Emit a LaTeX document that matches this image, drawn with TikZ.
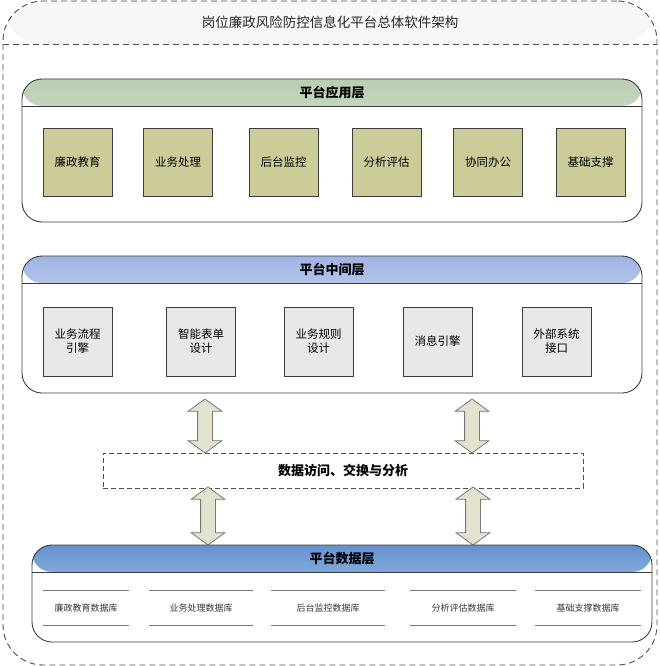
\documentclass[tikz,border=0pt]{standalone}
\usepackage{fontspec}
\usepackage{tikz}
\usetikzlibrary{positioning, shapes.arrows, calc}
\newfontfamily\cjk{Noto Sans CJK SC}
\definecolor{ink}{RGB}{60,60,60}
\definecolor{rulegrey}{RGB}{120,120,120}
\definecolor{dashgrey}{RGB}{80,80,80}
\definecolor{khaki}{RGB}{204,204,153}
\definecolor{pale}{RGB}{232,232,232}
\definecolor{sage}{RGB}{184,206,178}
\definecolor{cream}{RGB}{248,248,236}
\definecolor{lilac}{RGB}{160,180,228}
\definecolor{snow}{RGB}{250,250,252}
\definecolor{sky}{RGB}{100,146,208}
\definecolor{icesky}{RGB}{206,226,246}
\definecolor{straw}{RGB}{226,226,206}
\definecolor{fog}{RGB}{247,247,247}
\definecolor{ivory}{RGB}{252,252,244}

\begin{document}
\begin{tikzpicture}[
  x=1pt, y=1pt,
  frame/.style={draw=dashgrey, dash pattern=on 6pt off 4pt, line width=0.9pt,
                rounded corners=40pt, inner sep=0pt},
  layer/.style={draw=ink, line width=0.9pt, rounded corners=20pt,
                minimum width=620pt, inner sep=0pt},
  head/.style 2 args={path picture={
      \shade[top color=#1, bottom color=#2]
        (path picture bounding box.north west) rectangle
        ([yshift=-27pt]path picture bounding box.north east);
      \draw[ink, line width=0.9pt]
        ([yshift=-27pt]path picture bounding box.north west) --
        ([yshift=-27pt]path picture bounding box.north east);}},
  hdr/.style={font=\cjk\bfseries\fontsize{13}{15}\selectfont},
  ttl/.style={font=\cjk\fontsize{13.5}{16}\selectfont, text=black!85},
  appbox/.style={draw=ink, fill=khaki, line width=0.8pt, minimum width=69pt,
                 minimum height=68pt, inner sep=2pt, align=center,
                 font=\cjk\fontsize{11.5}{14}\selectfont},
  midbox/.style={appbox, fill=pale, minimum height=69pt},
  dblarrow/.style={double arrow, draw=rulegrey, fill=straw, line width=0.8pt,
                   rotate=90, inner xsep=0pt, inner ysep=7pt,
                   minimum width=33pt, double arrow tip angle=108,
                   double arrow head extend=9.5pt, double arrow head indent=0pt},
  dashbox/.style={draw=dashgrey, dash pattern=on 5pt off 3pt, line width=0.8pt,
                  minimum width=480pt, minimum height=35pt,
                  font=\cjk\bfseries\fontsize{13}{15}\selectfont},
  dbtxt/.style={minimum height=34pt, inner sep=0pt,
                font=\cjk\fontsize{9}{11}\selectfont, text=black!80},
  dbline/.style={draw=rulegrey, line width=1.2pt}]

  \useasboundingbox (0,0) rectangle (660,-666);

  % --- outer frame and title
  \node[frame, minimum width=654pt, minimum height=664pt,
        path picture={\shade[top color=fog, bottom color=ivory]
          (path picture bounding box.north west) rectangle
          ([yshift=-43pt]path picture bounding box.north east);}]
        (frm) at (330,-333) {};
  \coordinate (cut) at (0,-44);
  \draw[draw=dashgrey, dash pattern=on 6pt off 4pt, line width=0.9pt]
    (frm.west |- cut) -- (frm.east |- cut);
  \node[ttl] (title) at (330,-22) {岗位廉政风险防控信息化平台总体软件架构};

  % --- application layer
  \node[layer, minimum height=143pt, head={sage}{cream}] (app) at (332,-150.5) {};
  \node[hdr] (apph) at ([yshift=-13.5pt]app.north) {平台应用层};
  \foreach \x/\t [count=\i] in {77.5/廉政教育, 178/业务处理, 283.5/后台监控,
                                 386.5/分析评估, 488/协同办公, 590.5/基础支撑}
    \node[appbox] (a\i) at (\x,-162) {\t};

  % --- middleware layer
  \node[layer, minimum height=137pt, head={lilac}{snow}] (mid) at (332,-324.5) {};
  \node[hdr] (midh) at ([yshift=-13.5pt]mid.north) {平台中间层};
  \foreach \x/\t [count=\i] in {77.5/{业务流程\\引擎}, 201/{智能表单\\设计},
                                 318.5/{业务规则\\设计}, 437.5/消息引擎,
                                 556.5/{外部系统\\接口}}
    \node[midbox] (m\i) at (\x,-341.5) {\t};

  % --- data access band with the arrows either side
  \node[dashbox] (acc) at (343,-470.5) {数据访问、交换与分析};
  \node[dblarrow, minimum height=54pt] (up1) at (205,-426) {};
  \node[dblarrow, minimum height=54pt] (up2) at (472,-426) {};
  \node[dblarrow, minimum height=58pt] (dn1) at (208,-516) {};
  \node[dblarrow, minimum height=58pt] (dn2) at (473,-516) {};

  % --- data layer
  \node[layer, minimum height=97pt, head={sky}{icesky}] (dat) at (342,-593.5) {};
  \node[hdr] (dath) at ([yshift=-13.5pt]dat.north) {平台数据层};
  \foreach \x/\w/\t [count=\i] in {86/86/廉政教育数据库, 201/104/业务处理数据库,
                                    328/113/后台监控数据库, 463/106/分析评估数据库,
                                    588/105/基础支撑数据库} {
    \node[dbtxt, minimum width=\w pt] (d\i) at (\x,-608) {\t};
    \draw[dbline] (d\i.north west) -- (d\i.north east);
    \draw[dbline] (d\i.south west) -- (d\i.south east);
  }
\end{tikzpicture}
\end{document}
